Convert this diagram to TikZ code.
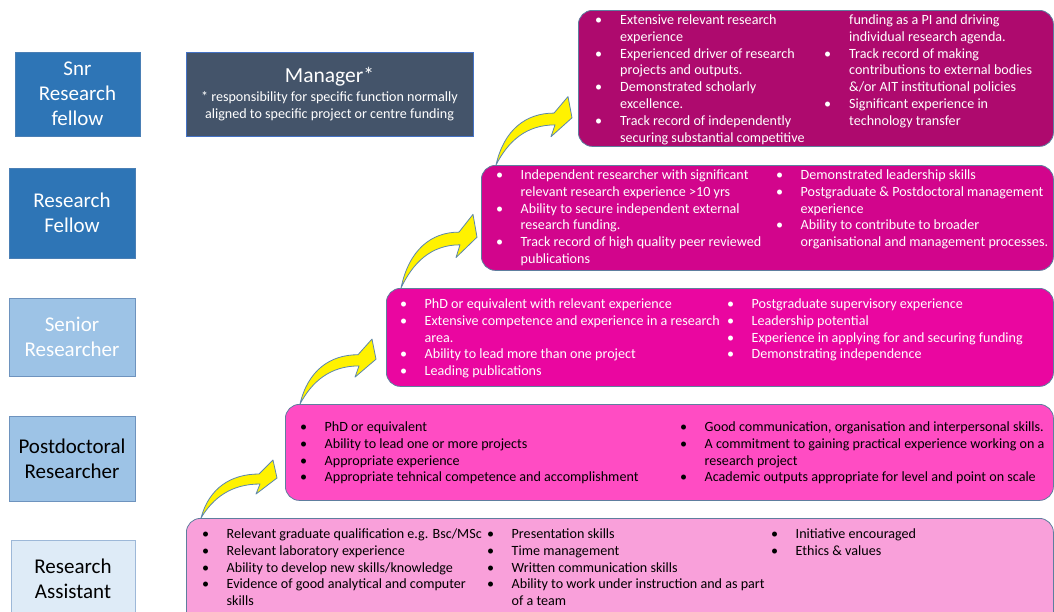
\documentclass[tikz,border=0pt]{standalone}
\usepackage{fontspec}
\setmainfont{Carlito}

\definecolor{roledark}{HTML}{2E75B6}
\definecolor{roledarkedge}{HTML}{4A7FB5}
\definecolor{rolemid}{HTML}{9DC3E6}
\definecolor{rolemidedge}{HTML}{6E93BE}
\definecolor{rolelight}{HTML}{DEEBF7}
\definecolor{rolelightedge}{HTML}{9DB8D8}
\definecolor{mgrfill}{HTML}{44546A}
\definecolor{mgredge}{HTML}{4472C4}
\definecolor{cardedge}{HTML}{5E7E9E}
\definecolor{snrpink}{HTML}{AE0A6E}
\definecolor{rfpink}{HTML}{D2058C}
\definecolor{srpink}{HTML}{EA06A0}
\definecolor{pdpink}{HTML}{FF4CC3}
\definecolor{rapink}{HTML}{F9A0DA}
\definecolor{liftedge}{HTML}{5B86AE}

\newcommand\rolefont{\fontsize{21}{25}\selectfont}
\newcommand\cardfont{\fontsize{14.1}{16.8}\selectfont}
% one bullet line, and one line that carries on the text above it
\newcommand\bitem[1]{\textbullet & #1\\}
\newcommand\bcont[1]{& #1\\}

\begin{document}
\begin{tikzpicture}[
        x=1pt, y=-1pt,
        rolebox/.style={
            rectangle,
            align=center,
            font=\rolefont,
            line width=0.8pt,
            inner sep=0pt
        },
        mgrbox/.style={
            rectangle,
            align=center,
            fill=mgrfill,
            draw=mgredge,
            line width=0.8pt,
            text=white,
            font=\fontsize{14.1}{17}\selectfont,
            minimum width=287pt,
            minimum height=84pt
        },
        card/.style={
            rectangle,
            rounded corners=14pt,
            draw=cardedge,
            line width=0.8pt,
            anchor=north west,
            inner sep=0pt
        },
        list/.style={
            anchor=base west,
            inner sep=0pt,
            font=\cardfont
        },
        lift/.style={
            fill=yellow,
            draw=liftedge,
            line width=0.8pt,
            line join=round
        }
    ]

    \useasboundingbox (0,0) rectangle (1054,611);
    \clip (0,0) rectangle (1054,611);

    % grades on the left
    \node[rolebox, fill=roledark, draw=roledarkedge, text=white,
        minimum width=125pt, minimum height=84pt] (snr) at (77.5,94)
        {Snr\\ Research\\ fellow};
    \node[rolebox, fill=roledark, draw=roledarkedge, text=white,
        minimum width=126pt, minimum height=90pt] (rf) at (72,213)
        {Research\\ Fellow};
    \node[rolebox, fill=rolemid, draw=rolemidedge, text=white,
        minimum width=126pt, minimum height=78pt] (sr) at (72,337)
        {Senior\\ Researcher};
    \node[rolebox, fill=rolemid, draw=rolemidedge, text=black,
        minimum width=126pt, minimum height=85pt] (pd) at (72,458.5)
        {Postdoctoral\\ Researcher};
    \node[rolebox, fill=rolelight, draw=rolelightedge, text=black,
        minimum width=124pt, minimum height=77pt] (ra) at (73,578.5)
        {Research\\ Assistant};

    \node[mgrbox] (manager) at (329.5,94)
        {{\fontsize{21.5}{24}\selectfont Manager*}\\[2pt]
         * responsibility for specific function normally\\
         aligned to specific project or centre funding};

    % requirement cards
    \node[card, fill=snrpink, minimum width=475pt, minimum height=136pt] (snrcard) at (578,10) {};
    \node[card, fill=rfpink, minimum width=572pt, minimum height=105pt] (rfcard) at (481,165) {};
    \node[card, fill=srpink, minimum width=667pt, minimum height=98pt] (srcard) at (386,288) {};
    \node[card, fill=pdpink, minimum width=768pt, minimum height=96pt] (pdcard) at (285,404) {};
    \node[card, fill=rapink, minimum width=867pt, minimum height=110pt] (racard) at (186,518) {};

    \node[list, text=white] (snrleft) at (595,24.5)
    {\begin{tabular}[t]{@{}p{25pt}@{}l@{}}
        \bitem{Extensive relevant research}
        \bcont{experience}
        \bitem{Experienced driver of research}
        \bcont{projects and outputs.}
        \bitem{Demonstrated scholarly}
        \bcont{excellence.}
        \bitem{Track record of independently}
        \bcont{securing substantial competitive}
    \end{tabular}};
    \node[list, text=white] (snrright) at (824,24.5)
    {\begin{tabular}[t]{@{}p{25pt}@{}l@{}}
        \bcont{funding as a PI and driving}
        \bcont{individual research agenda.}
        \bitem{Track record of making}
        \bcont{contributions to external bodies}
        \bcont{\&/or AIT institutional policies}
        \bitem{Significant experience in}
        \bcont{technology transfer}
    \end{tabular}};

    \node[list, text=white] (rfleft) at (496,179.5)
    {\begin{tabular}[t]{@{}p{24.5pt}@{}l@{}}
        \bitem{Independent researcher with significant}
        \bcont{relevant research experience >10 yrs}
        \bitem{Ability to secure independent external}
        \bcont{research funding.}
        \bitem{Track record of high quality peer reviewed}
        \bcont{publications}
    \end{tabular}};
    \node[list, text=white] (rfright) at (776,179.5)
    {\begin{tabular}[t]{@{}p{24.5pt}@{}l@{}}
        \bitem{Demonstrated leadership skills}
        \bitem{Postgraduate \& Postdoctoral management}
        \bcont{experience}
        \bitem{Ability to contribute to broader}
        \bcont{organisational and management processes.}
    \end{tabular}};

    \node[list, text=white] (srleft) at (400,308.5)
    {\begin{tabular}[t]{@{}p{24.5pt}@{}l@{}}
        \bitem{PhD or equivalent with relevant experience}
        \bitem{Extensive competence and experience in a research}
        \bcont{area.}
        \bitem{Ability to lead more than one project}
        \bitem{Leading publications}
    \end{tabular}};
    \node[list, text=white] (srright) at (727,308.5)
    {\begin{tabular}[t]{@{}p{24.5pt}@{}l@{}}
        \bitem{Postgraduate supervisory experience}
        \bitem{Leadership potential}
        \bitem{Experience in applying for and securing funding}
        \bitem{Demonstrating independence}
    \end{tabular}};

    \node[list] (pdleft) at (300,431.5)
    {\begin{tabular}[t]{@{}p{24.5pt}@{}l@{}}
        \bitem{PhD or equivalent}
        \bitem{Ability to lead one or more projects}
        \bitem{Appropriate experience}
        \bitem{Appropriate tehnical competence and accomplishment}
    \end{tabular}};
    \node[list] (pdright) at (680,431.5)
    {\begin{tabular}[t]{@{}p{24.5pt}@{}l@{}}
        \bitem{Good communication, organisation and interpersonal skills.}
        \bitem{A commitment to gaining practical experience working on a}
        \bcont{research project}
        \bitem{Academic outputs appropriate for level and point on scale}
    \end{tabular}};

    \node[list] (raleft) at (202,538.5)
    {\begin{tabular}[t]{@{}p{24.5pt}@{}l@{}}
        \bitem{Relevant graduate qualification e.g. Bsc/MSc}
        \bitem{Relevant laboratory experience}
        \bitem{Ability to develop new skills/knowledge}
        \bitem{Evidence of good analytical and computer}
        \bcont{skills}
    \end{tabular}};
    \node[list] (ramid) at (487,538.5)
    {\begin{tabular}[t]{@{}p{24.5pt}@{}l@{}}
        \bitem{Presentation skills}
        \bitem{Time management}
        \bitem{Written communication skills}
        \bitem{Ability to work under instruction and as part}
        \bcont{of a team}
    \end{tabular}};
    \node[list] (raright) at (771,538.5)
    {\begin{tabular}[t]{@{}p{24.5pt}@{}l@{}}
        \bitem{Initiative encouraged}
        \bitem{Ethics \& values}
    \end{tabular}};

    % curved arrows up the ladder
    \foreach \src/\s in {racard/1, pdcard/1.12, srcard/1.27, rfcard/1.18}
        \draw[lift, shift={([xshift=15pt]\src.north west)}, yscale=\s]
            (0,0) .. controls (8,-30) and (30,-44) .. (58,-44)
            -- (72,-58) -- (76,-40) -- (55,-24) -- (59,-34)
            .. controls (30,-34) and (12,-20) .. cycle;

\end{tikzpicture}
\end{document}
